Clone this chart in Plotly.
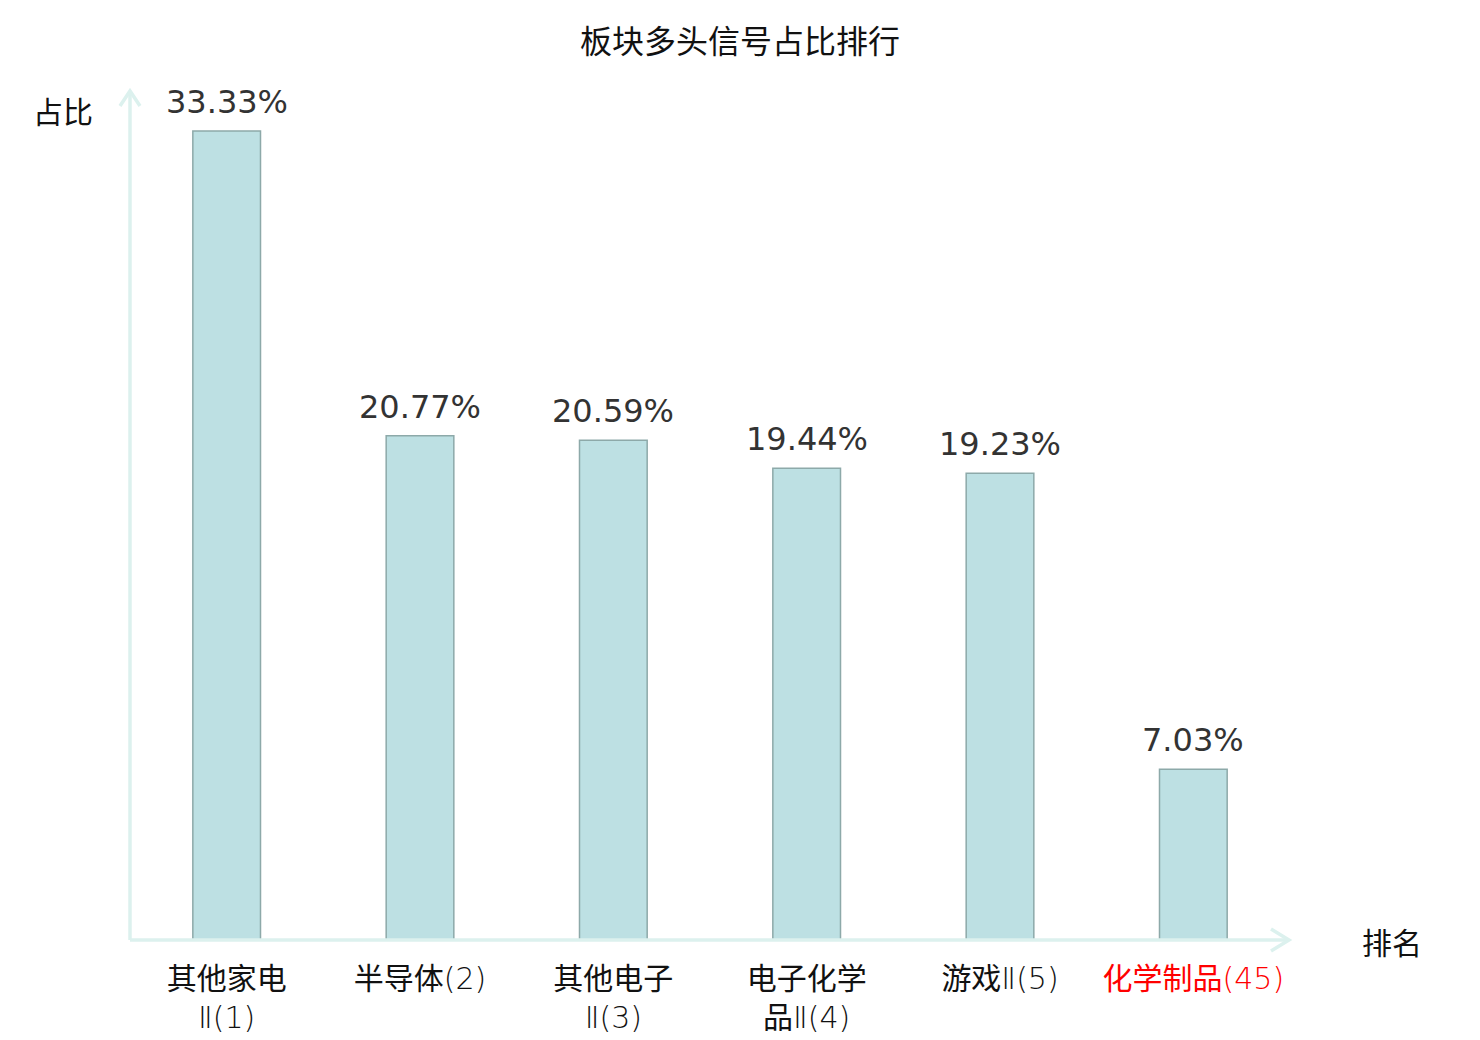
import re
import plotly.graph_objects as go

categories = ["其他家电<br>Ⅱ(1)", "半导体(2)", "其他电子<br>Ⅱ(3)", "电子化学<br>品Ⅱ(4)", "游戏Ⅱ(5)", "化学制品(45)"]
values = [33.33, 20.77, 20.59, 19.44, 19.23, 7.03]
highlight = [False, False, False, False, False, True]
value_labels = [f"{v:.2f}%" for v in values]

W, H = 1480, 1040
OFF = 8  # page offset of the drawing in the screenshot
L, T = 130 - OFF, 90 - OFF
PW, PH = 1160, 850
R = W - L - PW
B = H - T - PH
FONT = "DejaVu Sans, Noto Sans CJK SC, sans-serif"
CJK = "Noto Sans CJK SC, DejaVu Sans, sans-serif"
TICKFONT = "DejaVu Sans, Noto Sans CJK SC, sans-serif"
AXIS_COLOR = "#dcf1ee"


def style_tick(text, red):
    # thin latin/numeral runs, regular CJK runs
    t = re.sub(r"([Ⅱ()0-9]+)", r'<span style="font-weight:200">\1</span>', text)
    t = re.sub(r"([\u4e00-\u9fff]+)", r'<span style="font-weight:400">\1</span>', t)
    if red:
        t = f'<span style="color:#ff0000">{t}</span>'
    return t


ticktext = [style_tick(c, h) for c, h in zip(categories, highlight)]
xs = list(range(len(categories)))

fig = go.Figure(go.Bar(
    x=xs, y=values, width=0.35,
    marker=dict(color="#bde0e3", line=dict(color="#8da9a9", width=1.5)),
    hoverinfo="skip",
))

def px(x):
    return (x - OFF - L) / PW
def py(y):
    return (T + PH - (y - OFF)) / PH

shapes = [
    dict(type="line", xref="paper", yref="paper", x0=px(130), y0=py(940), x1=px(130), y1=py(91),
         line=dict(color=AXIS_COLOR, width=3.5)),
    dict(type="path", xref="paper", yref="paper",
         path=f"M{px(120)},{py(106)} L{px(130)},{py(91)} L{px(140)},{py(106)}",
         line=dict(color=AXIS_COLOR, width=3.5)),
    dict(type="line", xref="paper", yref="paper", x0=px(130), y0=py(940), x1=px(1289), y1=py(940),
         line=dict(color=AXIS_COLOR, width=3.5)),
    dict(type="path", xref="paper", yref="paper",
         path=f"M{px(1271)},{py(929)} L{px(1289)},{py(940)} L{px(1271)},{py(951)}",
         line=dict(color=AXIS_COLOR, width=3.5)),
]

annotations = [
    dict(text="占比", xref="paper", yref="paper", x=px(63), y=py(110), showarrow=False,
         xanchor="center", yanchor="middle", font=dict(size=30, color="#111111", family=CJK)),
    dict(text="排名", xref="paper", yref="paper", x=px(1392), y=py(941), showarrow=False,
         xanchor="center", yanchor="middle", font=dict(size=30, color="#111111", family=CJK)),
]
for xi, v, lab in zip(xs, values, value_labels):
    annotations.append(dict(text=lab, x=xi, y=v, xref="x", yref="y", showarrow=False,
                            xanchor="center", yanchor="middle", yshift=29,
                            font=dict(size=32, color="#333333", family=FONT)))

fig.update_layout(
    width=W, height=H,
    margin=dict(l=L, r=R, t=T, b=B, autoexpand=False),
    paper_bgcolor="white", plot_bgcolor="white",
    title=dict(text="板块多头信号占比排行", x=(740 - OFF) / W, xref="container", xanchor="center",
               y=1 - (42 - OFF) / H, yref="container", yanchor="middle",
               font=dict(size=32, color="#111111", family=CJK)),
    xaxis=dict(range=[-0.5, 5.5], tickvals=xs, ticktext=ticktext, showgrid=False,
               zeroline=False, showline=False, ticks="", ticklabelstandoff=18,
               tickfont=dict(size=30, color="#111111", family=TICKFONT, weight=200)),
    yaxis=dict(range=[0, 35.02], showticklabels=False, showgrid=False, zeroline=False, showline=False),
    shapes=shapes, annotations=annotations, showlegend=False,
    font=dict(family=FONT),
)

fig.write_html("out.html")
